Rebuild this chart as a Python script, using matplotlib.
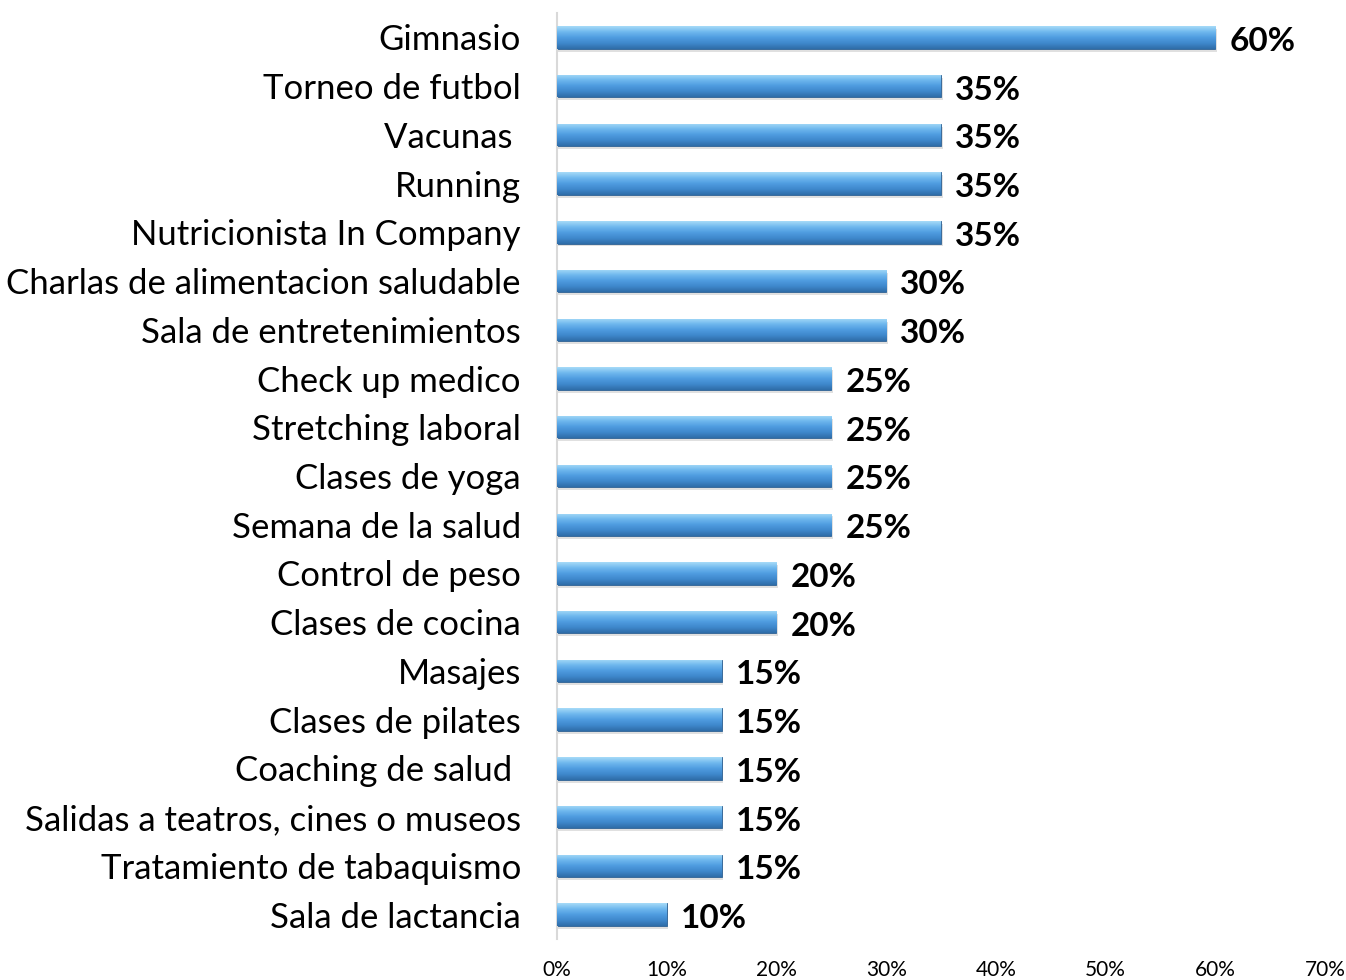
import numpy as np
import matplotlib.pyplot as plt
from matplotlib.colors import LinearSegmentedColormap

categories = ["Gimnasio", "Torneo de futbol", "Vacunas ", "Running",
              "Nutricionista In Company", "Charlas de alimentacion saludable",
              "Sala de entretenimientos", "Check up medico", "Stretching laboral",
              "Clases de yoga", "Semana de la salud", "Control de peso",
              "Clases de cocina", "Masajes", "Clases de pilates",
              "Coaching de salud ", "Salidas a teatros, cines o museos",
              "Tratamiento de tabaquismo", "Sala de lactancia"]
values = [60, 35, 35, 35, 35, 30, 30, 25, 25, 25, 25, 20, 20, 15, 15, 15, 15, 15, 10]
xticks = [0, 10, 20, 30, 40, 50, 60, 70]

plt.rcParams['font.family'] = ['Lato', 'DejaVu Sans']

fig = plt.figure(figsize=(13.46, 9.80), dpi=100)
ax = fig.add_axes([557/1346, 1 - 939/980, 768/1346, 926/980])

n = len(categories)
ypos = np.arange(n)[::-1]
h = 0.46

cmap = LinearSegmentedColormap.from_list('bar', ['#2F6DA8', '#3F88CC', '#4F9CE0', '#6FB8EE', '#A6DBF8'])
grad = np.linspace(0, 1, 64).reshape(-1, 1)

for y, v in zip(ypos, values):
    # soft shadow
    ax.barh(y - 0.06, v + 0.15, height=h, color='#000000', alpha=0.12, zorder=1)
    bar = ax.barh(y, v, height=h, color='#4A94D8', edgecolor='#2C5F90', linewidth=0.6, zorder=2)[0]
    im = ax.imshow(grad, aspect='auto', cmap=cmap, extent=(0, v, y - h/2, y + h/2),
                   origin='lower', zorder=3)
    im.set_clip_path(bar)
    ax.text(v + 1.3, y - 0.08, f"{v}%", va='center', ha='left', fontsize=24,
            fontweight='bold', color='black')

ax.set_xlim(0, 70)
ax.set_ylim(-0.5, n - 0.5)
ax.set_yticks(ypos)
ax.set_yticklabels(categories, fontsize=25)
ax.set_xticks(xticks)
ax.set_xticklabels([f"{t}%" for t in xticks], fontsize=15)
ax.tick_params(axis='both', length=0)
ax.tick_params(axis='y', pad=26)
ax.tick_params(axis='x', pad=15)
for s in ['top', 'right', 'bottom']:
    ax.spines[s].set_visible(False)
ax.spines['left'].set_color('#D9D9D9')
ax.spines['left'].set_linewidth(1.5)

fig.savefig('out.png', dpi=100)
